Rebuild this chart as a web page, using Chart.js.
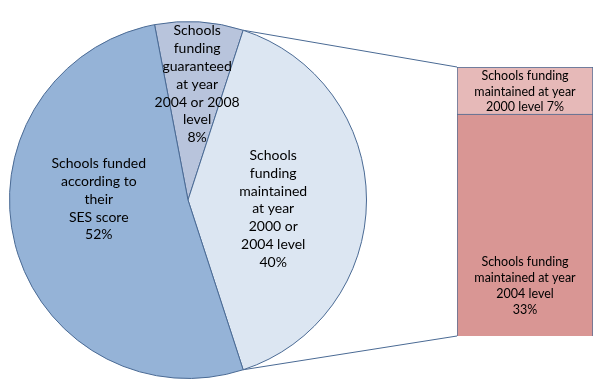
<!DOCTYPE html>
<html>
<head>
<meta charset="utf-8">
<script src="https://cdn.jsdelivr.net/npm/chart.js@4"></script>
<style>
  html, body { margin: 0; padding: 0; background: #fff; }
  #wrap { position: relative; width: 601px; height: 385px; overflow: hidden; }
  #wrap canvas { position: absolute; }
  #pieChart { left: 9px; top: 21px; }
  #barChart { left: 457px; top: 67px; }
  #links { left: 0; top: 0; pointer-events: none; }
</style>
</head>
<body>
<div id="wrap">
  <canvas id="links" width="601" height="385"></canvas>
  <canvas id="pieChart" width="358" height="358"></canvas>
  <canvas id="barChart" width="136" height="269"></canvas>
</div>
<script>
// pie slices, clockwise from the top
const pieValues = [8, 40, 52];
const pieLabels = [
  ['Schools', 'funding', 'guaranteed', 'at year', '2004 or 2008', 'level', '8%'],
  ['Schools', 'funding', 'maintained', 'at year', '2000 or', '2004 level', '40%'],
  ['Schools funded', 'according to', 'their', 'SES score', '52%']
];
const pieColors = ['#b8c4dc', '#dce6f2', '#95b3d7'];

// the 40% slice split into the bar, bottom to top
const barValues = [33, 7];
const barLabels = [
  ['Schools funding', 'maintained at year', '2004 level', '33%'],
  ['Schools funding', 'maintained at year', '2000 level 7%']
];
const barColors = ['#d99694', '#e6b9b8'];

const edge = '#4a6a94';
const font = 'Lato, "Open Sans", sans-serif';

// where each pie label sits: angle (deg clockwise from top), fraction of radius
const pieLabelPos = [[4.5, 0.65], [96, 0.48], [270.5, 0.5]];

function drawLines(ctx, lines, cx, cy, size, gap) {
  ctx.save();
  ctx.fillStyle = '#000';
  ctx.font = size + 'px ' + font;
  ctx.textAlign = 'center';
  ctx.textBaseline = 'middle';
  const top = cy - (lines.length - 1) * gap / 2;
  lines.forEach((t, i) => ctx.fillText(t, cx, top + i * gap));
  ctx.restore();
}

const pieLabelPlugin = {
  id: 'pieLabelPlugin',
  afterDatasetsDraw(chart) {
    const ctx = chart.ctx;
    chart.getDatasetMeta(0).data.forEach((arc, i) => {
      const a = pieLabelPos[i][0] * Math.PI / 180;
      const r = arc.outerRadius * pieLabelPos[i][1];
      drawLines(ctx, pieLabels[i], arc.x + Math.sin(a) * r, arc.y - Math.cos(a) * r, 14, 17.8);
    });
  }
};

const barLabelPlugin = {
  id: 'barLabelPlugin',
  afterDatasetsDraw(chart) {
    const ctx = chart.ctx;
    const bottom = chart.getDatasetMeta(0).data[0];
    const top = chart.getDatasetMeta(1).data[0];
    drawLines(ctx, barLabels[1], top.x, (top.y + top.base) / 2 + 1, 12.5, 15.5);
    drawLines(ctx, barLabels[0], bottom.x, bottom.base - 50, 12.5, 15.8);
  }
};

const pieChart = new Chart(document.getElementById('pieChart'), {
  type: 'pie',
  data: {
    labels: pieLabels.map(l => l.join(' ')),
    datasets: [{
      data: pieValues,
      backgroundColor: pieColors,
      borderColor: edge,
      borderWidth: 1
    }]
  },
  options: {
    responsive: false,
    animation: false,
    rotation: -10.8,
    layout: { padding: 0 },
    plugins: { legend: { display: false }, tooltip: { enabled: false } }
  },
  plugins: [pieLabelPlugin]
});

const barChart = new Chart(document.getElementById('barChart'), {
  type: 'bar',
  data: {
    labels: [''],
    datasets: barValues.map((v, i) => ({
      data: [v],
      backgroundColor: barColors[i],
      borderColor: edge,
      borderWidth: 1,
      barPercentage: 1,
      categoryPercentage: 1
    }))
  },
  options: {
    responsive: false,
    animation: false,
    layout: { padding: 0 },
    scales: {
      x: { stacked: true, display: false },
      y: { stacked: true, display: false, min: 0, max: 40 }
    },
    plugins: { legend: { display: false }, tooltip: { enabled: false } }
  },
  plugins: [barLabelPlugin]
});

// connector lines from the edges of the 40% slice to the bar corners
(function () {
  const ctx = document.getElementById('links').getContext('2d');
  const pieBox = document.getElementById('pieChart');
  const barBox = document.getElementById('barChart');
  const arc = pieChart.getDatasetMeta(0).data[1];
  const topBar = barChart.getDatasetMeta(1).data[0];
  const bottomBar = barChart.getDatasetMeta(0).data[0];
  const px = pieBox.offsetLeft, py = pieBox.offsetTop;
  const bx = barBox.offsetLeft, by = barBox.offsetTop;
  const p1 = [px + arc.x + Math.cos(arc.startAngle) * arc.outerRadius, py + arc.y + Math.sin(arc.startAngle) * arc.outerRadius];
  const p2 = [px + arc.x + Math.cos(arc.endAngle) * arc.outerRadius, py + arc.y + Math.sin(arc.endAngle) * arc.outerRadius];
  const left = bx + topBar.x - topBar.width / 2;
  ctx.strokeStyle = edge;
  ctx.lineWidth = 1;
  ctx.beginPath();
  ctx.moveTo(p1[0], p1[1]);
  ctx.lineTo(left, by + topBar.y);
  ctx.moveTo(p2[0], p2[1]);
  ctx.lineTo(left, by + bottomBar.base);
  ctx.stroke();
})();
</script>
</body>
</html>
